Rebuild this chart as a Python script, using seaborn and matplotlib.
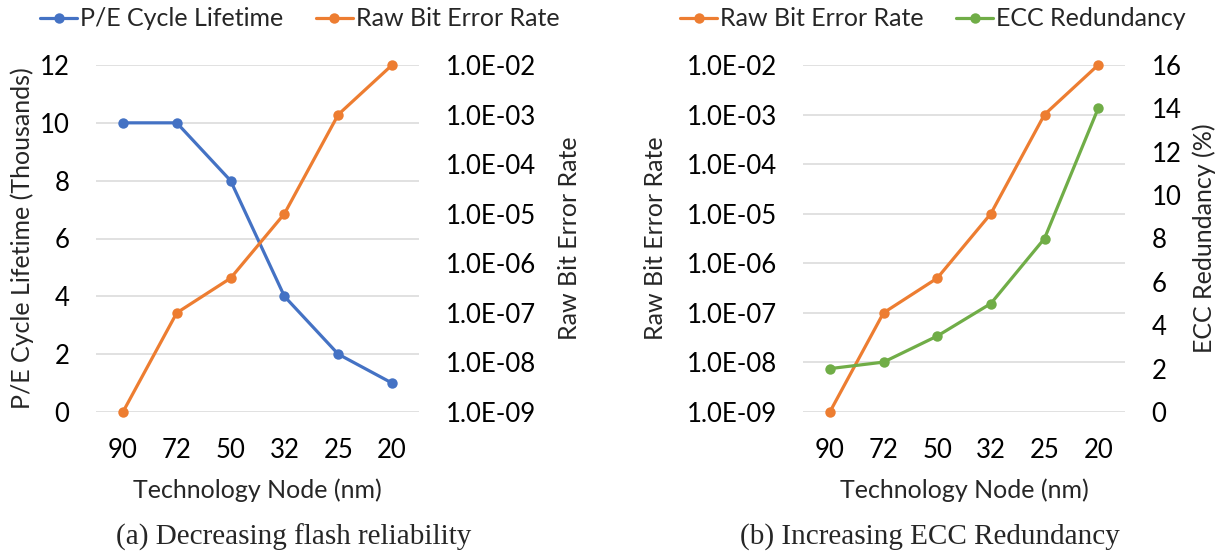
import numpy as np
import matplotlib
matplotlib.use("Agg")
import matplotlib.pyplot as plt
from matplotlib.ticker import FixedLocator, FuncFormatter, NullLocator
from matplotlib.lines import Line2D
import seaborn as sns

# Technology nodes (nm) and per-node measurements
nodes = ["90", "72", "50", "32", "25", "20"]
pe_cycles_k = [10, 10, 8, 4, 2, 1]                      # P/E cycle lifetime, thousands
raw_ber = [1e-9, 1e-7, 5e-7, 1e-5, 1e-3, 1e-2]          # raw bit error rate
ecc_redundancy = [2.0, 2.3, 3.5, 5.0, 8.0, 14.0]        # ECC redundancy, %

pe_ticks = [0, 2, 4, 6, 8, 10, 12]
ber_ticks = [1e-9, 1e-8, 1e-7, 1e-6, 1e-5, 1e-4, 1e-3, 1e-2]
ecc_ticks = [0, 2, 4, 6, 8, 10, 12, 14, 16]

BLUE = "#4472C4"
ORANGE = "#ED7D31"
GREEN = "#70AD47"
GRID = "#D9D9D9"

sns.set_theme(style="white")
plt.rcParams["font.family"] = ["Lato", "DejaVu Sans"]

TICK_FS = 18.5
LABEL_FS = 18
LW = 2.3
MS = 7.5
PAD = 19

x = np.arange(len(nodes))


def sci_label(v, _pos=None):
    e = int(np.floor(np.log10(v) + 1e-9))
    m = v / 10 ** e
    return f"{m:.1f}E{'-' if e < 0 else '+'}{abs(e):02d}"


def style_axis(ax):
    for s in ax.spines.values():
        s.set_visible(False)
    ax.tick_params(axis="both", length=0, labelsize=TICK_FS, pad=PAD, colors="black")
    ax.set_xlim(-0.5, len(nodes) - 0.5)


def setup_ber(ax):
    ax.set_yscale("log")
    ax.set_ylim(ber_ticks[0], ber_ticks[-1])
    ax.yaxis.set_major_locator(FixedLocator(ber_ticks))
    ax.yaxis.set_minor_locator(NullLocator())
    ax.yaxis.set_major_formatter(FuncFormatter(sci_label))


def draw_series(ax, values, color):
    sns.lineplot(x=x, y=values, ax=ax, color=color, linewidth=LW,
                 marker="o", markersize=MS, markeredgewidth=0, zorder=3)
    for ln in ax.get_lines():
        ln.set_clip_on(False)


fig = plt.figure(figsize=(12.24, 5.54), dpi=100)

ax_w = 323 / 1224
ax_h = 347 / 554
ax_b = (554 - 412) / 554

# ---------- (a) Decreasing flash reliability ----------
axa = fig.add_axes([96 / 1224, ax_b, ax_w, ax_h])
axa2 = axa.twinx()

draw_series(axa, pe_cycles_k, BLUE)
draw_series(axa2, raw_ber, ORANGE)

for ax in (axa, axa2):
    style_axis(ax)
axa.set_ylim(pe_ticks[0], pe_ticks[-1])
axa.set_yticks(pe_ticks)
setup_ber(axa2)
axa.set_xticks(x)
axa.set_xticklabels(nodes)
axa.yaxis.grid(True, color=GRID, linewidth=1.1)
axa.xaxis.grid(False)
axa2.grid(False)

axa.set_xlabel("Technology Node (nm)", fontsize=LABEL_FS)
axa.xaxis.set_label_coords(0.5, -0.19)
axa.set_ylabel("P/E Cycle Lifetime (Thousands)", fontsize=LABEL_FS)
axa.yaxis.set_label_coords(-0.192, 0.5)
axa2.set_ylabel("Raw Bit Error Rate", fontsize=LABEL_FS)
axa2.yaxis.set_label_coords(1.430, 0.5)

# ---------- (b) Increasing ECC Redundancy ----------
axb = fig.add_axes([803 / 1224, ax_b, 322 / 1224, ax_h])
axb2 = axb.twinx()

draw_series(axb, raw_ber, ORANGE)
draw_series(axb2, ecc_redundancy, GREEN)

for ax in (axb, axb2):
    style_axis(ax)
setup_ber(axb)
axb2.set_ylim(ecc_ticks[0], ecc_ticks[-1])
axb2.set_yticks(ecc_ticks)
axb.set_xticks(x)
axb.set_xticklabels(nodes)
axb.yaxis.grid(True, color=GRID, linewidth=1.1)
axb.xaxis.grid(False)
axb2.grid(False)

axb.set_xlabel("Technology Node (nm)", fontsize=LABEL_FS)
axb.xaxis.set_label_coords(0.5, -0.19)
axb.set_ylabel("Raw Bit Error Rate", fontsize=LABEL_FS)
axb.yaxis.set_label_coords(-0.422, 0.5)
axb2.set_ylabel("ECC Redundancy (%)", fontsize=LABEL_FS)
axb2.yaxis.set_label_coords(1.208, 0.5)


# ---------- legends ----------
def handle(color):
    return Line2D([], [], color=color, linewidth=LW, marker="o",
                  markersize=MS, markeredgewidth=0)


leg_kw = dict(loc="center left", ncol=2, frameon=False, fontsize=LABEL_FS,
              handlelength=1.48, handletextpad=0.12, columnspacing=1.3,
              borderaxespad=0, borderpad=0)
fig.legend([handle(BLUE), handle(ORANGE)],
           ["P/E Cycle Lifetime", "Raw Bit Error Rate"],
           bbox_to_anchor=(40 / 1224, 1 - 19 / 554), **leg_kw)
fig.legend([handle(ORANGE), handle(GREEN)],
           ["Raw Bit Error Rate", "ECC Redundancy"],
           bbox_to_anchor=(680 / 1224, 1 - 19 / 554), **leg_kw)

# ---------- captions ----------
cap_kw = dict(ha="center", va="center", fontsize=21,
              family=["Liberation Serif", "DejaVu Serif"])
fig.text(294 / 1224, 1 - 537 / 554, "(a) Decreasing flash reliability", **cap_kw)
fig.text(930 / 1224, 1 - 537 / 554, "(b) Increasing ECC Redundancy", **cap_kw)

fig.savefig("out.png", dpi=100, facecolor="white")
